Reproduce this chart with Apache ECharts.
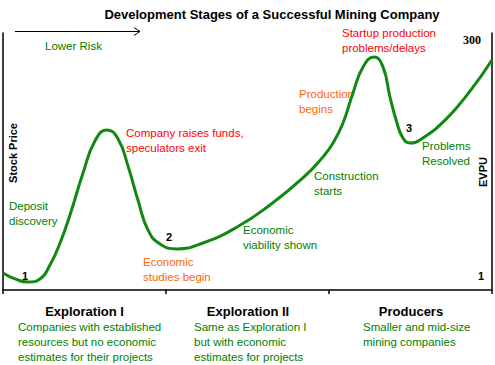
<!DOCTYPE html>
<html>
<head>
<meta charset="utf-8">
<script src="https://cdn.jsdelivr.net/npm/echarts@6/dist/echarts.min.js"></script>
<style>html,body{margin:0;padding:0;background:#fff;}#c{width:495px;height:365px;}</style>
</head>
<body>
<div id="c"></div>
<script>
// Stage positions (x, 0..300: each stage = 100 units) and relative stock price (0..100)
var stageX = [0, 7.4, 15.3, 22.7, 28.8, 35.0, 41.1, 49.1, 56.4, 63.8, 70.6, 76.7, 82.8, 89.0, 96.3, 106.7, 122.7, 143.6, 163.8, 184.0, 196.3, 202.5, 208.6, 214.7, 220.9, 227.6, 233.1, 237.4, 241.7, 245.4, 249.7, 255.8, 271.2, 286.5, 300];
var stockPrice = [6.6, 4.3, 3.1, 4.3, 9.7, 18.3, 29.2, 45.5, 58.0, 62.3, 58.8, 48.2, 35.0, 23.3, 17.9, 16.0, 18.3, 24.5, 33.1, 43.6, 51.8, 57.2, 65.0, 76.7, 86.8, 90.7, 86.8, 75.1, 65.0, 59.1, 57.2, 58.4, 66.1, 77.4, 89.5];
var stageNames = ['Exploration I', 'Exploration II', 'Producers'];
var stageDescriptions = [
  'Companies with established\nresources but no economic\nestimates for their projects',
  'Same as Exploration I\nbut with economic\nestimates for projects',
  'Smaller and mid-size\nmining companies'
];
var evpuLabels = ['300', '1'];

var chart = echarts.init(document.getElementById('c'), null, {renderer: 'svg'});
var pts = stageX.map(function (x, i) { return [x, stockPrice[i]]; });

var F = '"Liberation Sans", Arial, sans-serif';
var green = '#008000', orange = '#ff6600', red = '#ff0000';
function txt(x, y, s, color, opt) {
  opt = opt || {};
  return {
    type: 'text', x: x, y: y, silent: true,
    rotation: opt.rotation || 0,
    style: {
      text: s, fill: color,
      font: opt.font || ('11.5px ' + F),
      lineHeight: opt.lh || 15,
      textAlign: opt.align || 'left',
      textVerticalAlign: opt.va || 'top'
    }
  };
}

var graphics = [
  // arrow
  {type: 'polyline', silent: true, shape: {points: [[15, 31.5], [140, 31.5]]}, style: {stroke: '#000', lineWidth: 1}},
  {type: 'polyline', silent: true, shape: {points: [[134, 27.5], [140, 31.5], [134, 35.5]]}, style: {stroke: '#000', lineWidth: 1, fill: null}},
  txt(45, 38, 'Lower Risk', green),
  txt(9, 198.5, 'Deposit\ndiscovery', green),
  txt(126, 125.5, 'Company raises funds,\nspeculators exit', red),
  txt(143, 254.5, 'Economic\nstudies begin', orange),
  txt(243, 222.5, 'Economic\nviability shown', green),
  txt(314, 168.5, 'Construction\nstarts', green),
  txt(299, 86.5, 'Production\nbegins', orange),
  txt(342, 25.5, 'Startup production\nproblems/delays', red),
  txt(422, 138.5, 'Problems\nResolved', green),
  txt(25, 276, '1', '#000', {font: 'bold 11px ' + F, align: 'center', va: 'middle'}),
  txt(169, 237, '2', '#000', {font: 'bold 11px ' + F, align: 'center', va: 'middle'}),
  txt(409, 128, '3', '#000', {font: 'bold 11px ' + F, align: 'center', va: 'middle'}),
  txt(13, 153, 'Stock Price', '#000', {font: 'bold 11px ' + F, align: 'center', va: 'middle', rotation: Math.PI / 2}),
  txt(483, 172, 'EVPU', '#000', {font: 'bold 11px ' + F, align: 'center', va: 'middle', rotation: Math.PI / 2}),
  txt(481, 40, evpuLabels[0], '#000', {font: 'bold 12px "Liberation Serif", "Times New Roman", serif', align: 'right', va: 'middle'}),
  txt(481, 276, evpuLabels[1], '#000', {font: 'bold 11px ' + F, align: 'center', va: 'middle'})
];
var centers = [84.5, 248, 411];
var descX = [18, 194, 363];
stageNames.forEach(function (n, i) {
  graphics.push(txt(centers[i], 311, n, '#000', {font: 'bold 13px ' + F, align: 'center', va: 'middle'}));
  graphics.push(txt(descX[i], 319.5, stageDescriptions[i], green));
});

chart.setOption({
  animation: false,
  title: {
    text: 'Development Stages of a Successful Mining Company',
    left: 267, top: 3, textAlign: 'center',
    textStyle: {fontFamily: F, fontWeight: 'bold', fontSize: 13, color: '#000'}
  },
  grid: {left: 3, right: 3, top: 33, bottom: 75},
  xAxis: {
    type: 'value', min: 0, max: 300, interval: 100,
    axisLine: {show: true, lineStyle: {color: '#000', width: 1.5}},
    axisTick: {show: true, inside: false, length: 4, lineStyle: {color: '#000', width: 1.5}},
    axisLabel: {show: false}, splitLine: {show: false}
  },
  yAxis: [
    {type: 'value', min: 0, max: 100, position: 'left',
      axisLine: {show: true, lineStyle: {color: '#000', width: 1.5}},
      axisTick: {show: false}, axisLabel: {show: false}, splitLine: {show: false}},
    {type: 'value', min: 0, max: 100, position: 'right',
      axisLine: {show: true, lineStyle: {color: '#000', width: 1.5}},
      axisTick: {show: false}, axisLabel: {show: false}, splitLine: {show: false}}
  ],
  series: [{
    type: 'line', data: pts, smooth: 0.5, symbol: 'none',
    lineStyle: {color: '#118811', width: 3}
  }],
  graphic: graphics
});
</script>
</body>
</html>
